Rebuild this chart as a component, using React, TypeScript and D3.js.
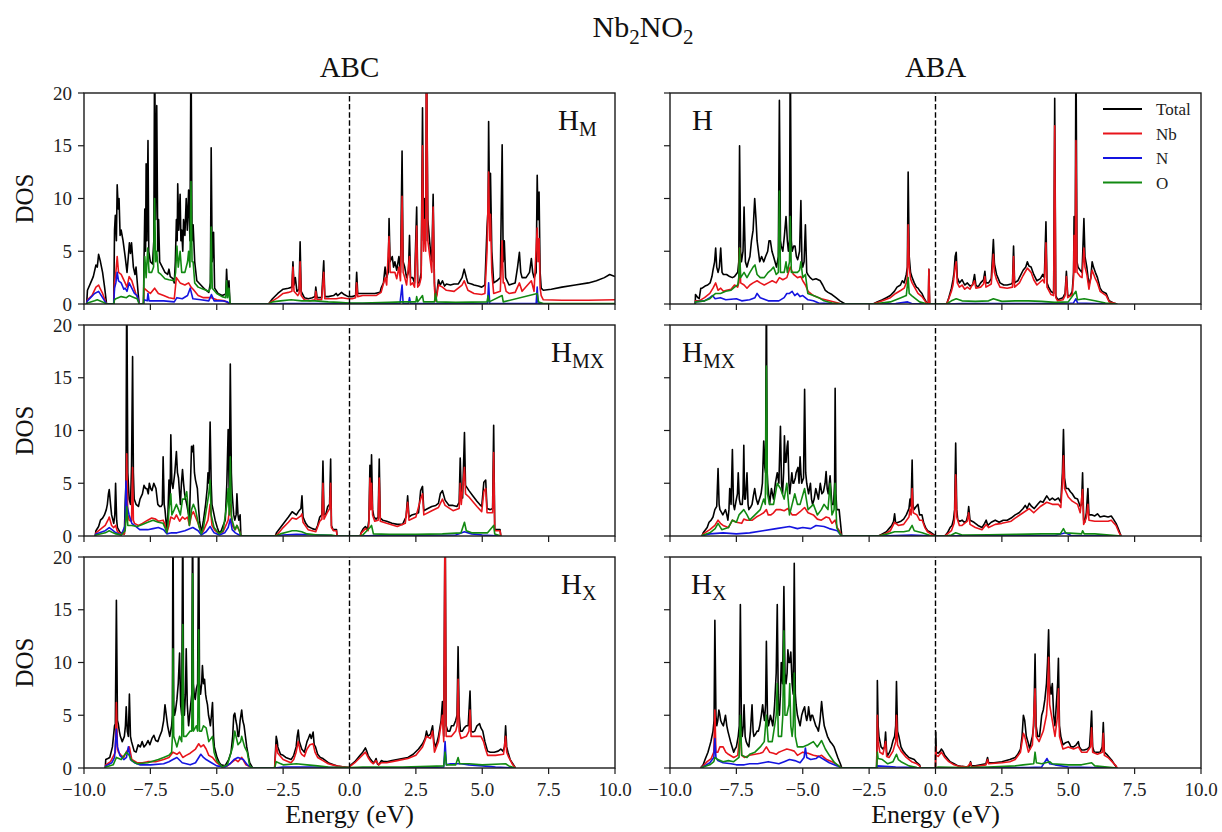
import React from "react";
import * as d3 from "d3";

type Pt = [number, number];

// ---------- axes, labels, legend ----------
const energyTicks = [-10, -7.5, -5, -2.5, 0, 2.5, 5, 7.5, 10];
const dosTicks = [0, 5, 10, 15, 20];
const stackings = ["ABC", "ABA"];
const seriesNames = ["Total", "Nb", "N", "O"];
const seriesColors = ["#000000", "#e8141b", "#1414e0", "#128a12"];

// ---------- ABC stacking, H_M site ----------
const abcHmTotal: Pt[] = [
  [-9.9, 0], [-9.87, 1.3], [-9.75, 2.0], [-9.65, 2.6], [-9.55, 3.7], [-9.5, 3.5], [-9.45, 4.7], [-9.38, 4.0], [-9.3, 3.0], [-9.22, 1.5], [-9.15, 0],
  [-8.88, 0], [-8.85, 7.0], [-8.82, 8.4], [-8.78, 6.0], [-8.75, 11.3], [-8.71, 9.0], [-8.68, 10.0], [-8.64, 6.5], [-8.6, 7.0], [-8.53, 6.0], [-8.45, 4.5], [-8.38, 3.0], [-8.33, 4.5], [-8.29, 5.8], [-8.25, 4.8], [-8.21, 5.8], [-8.14, 3.5], [-8.08, 2.8], [-8.04, 3.5], [-7.96, 1.0], [-7.92, 0],
  [-7.76, 0], [-7.74, 4.0], [-7.71, 9.0], [-7.68, 5.0], [-7.66, 13.3], [-7.63, 6.0], [-7.59, 15.5], [-7.56, 5.0], [-7.5, 4.0], [-7.42, 3.8], [-7.37, 6.0], [-7.34, 25], [-7.3, 8.0], [-7.26, 18.8], [-7.22, 5.0], [-7.19, 8.0], [-7.15, 4.0], [-7.05, 3.5], [-6.95, 3.0], [-6.85, 2.8], [-6.8, 3.3], [-6.75, 2.6], [-6.65, 2.4], [-6.6, 2.0],
  [-6.56, 4.0], [-6.52, 8.0], [-6.49, 6.0], [-6.47, 11.4], [-6.43, 7.0], [-6.38, 10.4], [-6.35, 6.0], [-6.32, 7.0], [-6.28, 5.0], [-6.25, 8.0], [-6.2, 6.5], [-6.15, 10.0], [-6.11, 7.0], [-6.06, 10.8], [-6.01, 6.0], [-5.97, 25], [-5.93, 6.0], [-5.89, 7.5], [-5.83, 4.0], [-5.75, 2.2], [-5.6, 1.8], [-5.45, 1.4], [-5.3, 1.1], [-5.24, 2.0], [-5.21, 14.8], [-5.17, 4.0], [-5.12, 6.8], [-5.08, 1.5], [-4.95, 1.0], [-4.8, 0.8], [-4.7, 0.9], [-4.66, 1.0], [-4.63, 3.3], [-4.59, 1.2], [-4.54, 2.2], [-4.5, 0],
  [-3.05, 0], [-2.9, 0.5], [-2.7, 1.0], [-2.5, 1.4], [-2.3, 1.5], [-2.17, 1.6], [-2.13, 4.0], [-2.09, 1.8], [-2.04, 2.5], [-1.98, 1.2], [-1.9, 1.4], [-1.86, 5.9], [-1.82, 1.2], [-1.7, 0.6], [-1.55, 0.5], [-1.4, 0.6], [-1.3, 0.7], [-1.27, 1.6], [-1.22, 0.6], [-1.05, 0.6], [-0.97, 4.1], [-0.93, 0.7], [-0.8, 0.7], [-0.6, 0.8], [-0.5, 1.0], [-0.45, 0.8], [-0.3, 1.1], [-0.2, 0.9], [-0.05, 0.7],
  [0.1, 0.7], [0.23, 0.8], [0.27, 3.0], [0.31, 1.0], [0.45, 1.0], [0.7, 1.0], [0.95, 1.0], [1.15, 1.1], [1.19, 1.5], [1.28, 2.0], [1.34, 3.5], [1.4, 2.5], [1.46, 3.0], [1.49, 8.1], [1.53, 4.0], [1.61, 4.5], [1.66, 3.5], [1.71, 4.0], [1.78, 3.2], [1.86, 4.5], [1.92, 3.0], [1.98, 14.5], [2.02, 4.0], [2.08, 3.5], [2.15, 2.5], [2.22, 3.0], [2.26, 6.5], [2.3, 2.5], [2.38, 2.5], [2.45, 2.0], [2.53, 9.2], [2.57, 2.0], [2.63, 2.0], [2.7, 3.0], [2.75, 18.6], [2.79, 6.0], [2.83, 10.0], [2.87, 6.0], [2.9, 25], [2.95, 8.0], [3.05, 5.0], [3.1, 4.0], [3.15, 10.4], [3.2, 2.0], [3.24, 0.5], [3.29, 1.0], [3.35, 2.3], [3.42, 1.8], [3.5, 2.2], [3.58, 1.7], [3.65, 1.9], [3.8, 1.8], [3.94, 1.9], [4.1, 1.9], [4.24, 2.5], [4.32, 3.3], [4.4, 2.5], [4.46, 2.0], [4.6, 1.9], [4.69, 1.8], [4.85, 1.7], [4.98, 1.6], [5.1, 1.8], [5.18, 7.3], [5.22, 9.0], [5.24, 17.3], [5.28, 8.0], [5.31, 12.4], [5.36, 5.0], [5.43, 2.0], [5.55, 2.2], [5.68, 2.5], [5.75, 15.1], [5.79, 4.0], [5.83, 6.0], [5.88, 2.5], [6.01, 1.8], [6.12, 1.9], [6.24, 2.0], [6.33, 3.5], [6.4, 4.9], [6.45, 3.0], [6.5, 2.5], [6.65, 2.5], [6.78, 3.0], [6.85, 4.3], [6.9, 3.0], [6.95, 2.5], [7.03, 3.0], [7.07, 12.2], [7.1, 8.0], [7.14, 10.6], [7.18, 3.0], [7.22, 1.5], [7.3, 1.3], [7.6, 1.4], [8.0, 1.6], [8.5, 1.8], [9.0, 2.0], [9.3, 2.2], [9.6, 2.5], [9.8, 2.8], [10.0, 2.6],
];
const abcHmNb: Pt[] = [
  [-9.9, 0], [-9.87, 0.4], [-9.7, 0.8], [-9.55, 1.6], [-9.45, 1.8], [-9.38, 1.4], [-9.3, 1.0], [-9.2, 0.3], [-9.15, 0],
  [-8.88, 0], [-8.85, 2.0], [-8.8, 3.0], [-8.75, 4.5], [-8.7, 3.0], [-8.6, 2.8], [-8.45, 2.0], [-8.38, 1.6], [-8.3, 2.6], [-8.2, 2.2], [-8.1, 1.4], [-8.05, 1.0], [-7.95, 0.4], [-7.92, 0],
  [-7.76, 0], [-7.74, 1.5], [-7.6, 1.2], [-7.5, 1.0], [-7.34, 1.5], [-7.2, 1.0], [-7.0, 0.8], [-6.8, 0.6], [-6.6, 0.5], [-6.52, 2.5], [-6.38, 2.0], [-6.2, 1.8], [-6.06, 2.0], [-5.97, 1.6], [-5.89, 1.4], [-5.7, 0.8], [-5.5, 0.6], [-5.2, 0.6], [-5.0, 0.4], [-4.7, 0.3], [-4.5, 0],
  [-3.05, 0], [-2.9, 0.3], [-2.7, 0.6], [-2.5, 1.0], [-2.3, 1.1], [-2.17, 1.2], [-2.13, 3.5], [-2.09, 1.2], [-1.95, 0.8], [-1.9, 1.0], [-1.86, 4.0], [-1.82, 0.8], [-1.7, 0.4], [-1.5, 0.3], [-1.3, 0.4], [-1.27, 1.2], [-1.22, 0.4], [-1.05, 0.4], [-0.97, 3.0], [-0.93, 0.5], [-0.7, 0.5], [-0.5, 0.5], [-0.3, 0.6], [-0.05, 0.5],
  [0.1, 0.5], [0.23, 0.6], [0.27, 2.0], [0.31, 0.7], [0.5, 0.8], [1.0, 0.8], [1.19, 1.1], [1.34, 2.5], [1.4, 1.8], [1.49, 6.4], [1.53, 3.0], [1.61, 3.0], [1.71, 3.0], [1.78, 2.4], [1.86, 3.5], [1.92, 2.2], [1.98, 10.2], [2.02, 3.0], [2.08, 2.5], [2.15, 1.8], [2.26, 4.5], [2.3, 1.8], [2.38, 2.0], [2.45, 1.6], [2.53, 7.4], [2.57, 1.6], [2.63, 1.8], [2.7, 2.5], [2.75, 15.0], [2.79, 5.0], [2.83, 8.0], [2.87, 5.0], [2.9, 25], [2.95, 6.0], [3.05, 4.0], [3.1, 3.0], [3.15, 9.2], [3.2, 1.5], [3.24, 0.3], [3.29, 0.8], [3.35, 1.8], [3.5, 1.6], [3.65, 1.3], [3.94, 1.2], [4.24, 1.8], [4.32, 2.2], [4.46, 1.3], [4.69, 1.0], [4.98, 0.9], [5.1, 1.0], [5.18, 5.0], [5.24, 12.5], [5.28, 6.0], [5.31, 8.5], [5.36, 3.0], [5.43, 1.0], [5.68, 1.2], [5.75, 6.0], [5.79, 2.0], [5.83, 2.0], [5.9, 1.2], [6.01, 1.0], [6.24, 1.1], [6.4, 2.0], [6.5, 1.2], [6.85, 2.2], [6.95, 1.2], [7.07, 7.2], [7.1, 4.0], [7.14, 6.2], [7.18, 1.5], [7.22, 0.8], [7.3, 0.4], [8.0, 0.35], [9.0, 0.35], [10.0, 0.4],
];
const abcHmN: Pt[] = [
  [-9.9, 0], [-9.87, 0.3], [-9.6, 1.0], [-9.45, 1.2], [-9.3, 0.6], [-9.2, 0.2], [-9.15, 0],
  [-8.88, 0], [-8.85, 1.5], [-8.8, 2.0], [-8.75, 3.0], [-8.7, 2.2], [-8.6, 2.0], [-8.5, 1.4], [-8.45, 1.5], [-8.38, 1.2], [-8.3, 2.0], [-8.2, 1.5], [-8.1, 1.0], [-8.0, 0.8], [-7.95, 0.3], [-7.92, 0],
  [-7.76, 0], [-7.74, 0.4], [-7.62, 0.3], [-7.59, 1.0], [-7.55, 0.3], [-7.3, 0.3], [-7.0, 0.3], [-6.6, 0.2], [-6.5, 0.6], [-6.3, 0.5], [-6.1, 0.8], [-6.0, 1.5], [-5.9, 0.5], [-5.6, 0.4], [-5.3, 0.3], [-5.2, 0.9], [-5.1, 0.3], [-4.8, 0.3], [-4.6, 0.2], [-4.5, 0],
  [-3.05, 0], [-2.5, 0.05], [-1.0, 0.05], [0, 0.05], [1.9, 0.05], [1.98, 1.8], [2.02, 0.05], [2.22, 0.05], [2.26, 0.6], [2.3, 0.05], [5.2, 0.05], [5.24, 2.0], [5.28, 0.05], [7.03, 0.05], [7.07, 1.6], [7.1, 0.05], [7.3, 0.02], [10, 0.02],
];
const abcHmO: Pt[] = [
  [-9.9, 0], [-9.87, 0.1], [-9.6, 0.3], [-9.5, 0.4], [-9.3, 0.2], [-9.15, 0],
  [-8.88, 0], [-8.85, 0.4], [-8.8, 0.5], [-8.6, 0.7], [-8.4, 0.6], [-8.3, 0.8], [-8.1, 0.6], [-8.0, 0.5], [-7.92, 0],
  [-7.76, 0], [-7.74, 3.0], [-7.71, 4.5], [-7.66, 2.5], [-7.6, 5.3], [-7.55, 3.0], [-7.45, 3.0], [-7.38, 3.5], [-7.34, 10.0], [-7.3, 4.0], [-7.26, 5.0], [-7.2, 3.0], [-7.1, 2.8], [-6.95, 2.4], [-6.8, 2.3], [-6.6, 2.2], [-6.55, 3.0], [-6.5, 5.5], [-6.45, 3.5], [-6.38, 5.0], [-6.32, 3.0], [-6.2, 3.0], [-6.1, 4.0], [-6.06, 5.0], [-6.01, 3.5], [-5.97, 11.6], [-5.93, 4.0], [-5.89, 4.0], [-5.83, 2.0], [-5.7, 1.6], [-5.5, 1.4], [-5.3, 1.2], [-5.24, 1.5], [-5.21, 7.3], [-5.17, 1.5], [-5.0, 1.0], [-4.8, 0.7], [-4.66, 0.6], [-4.63, 2.2], [-4.59, 0.6], [-4.54, 1.5], [-4.5, 0],
  [-3.05, 0], [-2.9, 0.2], [-2.6, 0.3], [-2.2, 0.4], [-1.8, 0.3], [-1.3, 0.3], [-0.8, 0.2], [-0.4, 0.15], [0, 0.1], [0.5, 0.1], [1.5, 0.15], [2.0, 0.2], [2.5, 0.2], [2.53, 0.7], [2.57, 0.2], [2.75, 0.8], [2.79, 0.2], [3.2, 0.2], [3.24, 1.0], [3.29, 0.2], [4.0, 0.15], [5.18, 0.2], [5.22, 0.8], [5.26, 0.2], [5.75, 0.8], [5.79, 0.2], [7.07, 1.0], [7.12, 0.2], [7.3, 0.05], [10, 0.05],
];

// ---------- ABA stacking, H site ----------
const abaHTotal: Pt[] = [
  [-9.05, 0], [-9.04, 0.9], [-8.95, 0.6], [-8.9, 0.5], [-8.84, 1.5], [-8.79, 1.5], [-8.68, 1.7], [-8.58, 1.8], [-8.49, 2.0], [-8.42, 2.6], [-8.38, 3.2], [-8.32, 4.0], [-8.28, 5.3], [-8.24, 3.5], [-8.19, 3.0], [-8.14, 3.5], [-8.09, 5.3], [-8.04, 3.0], [-7.99, 2.8], [-7.87, 2.8], [-7.75, 2.6], [-7.65, 2.5], [-7.57, 2.6], [-7.45, 3.0], [-7.41, 4.0], [-7.38, 15.0], [-7.34, 5.0], [-7.31, 4.0], [-7.25, 5.0], [-7.21, 9.2], [-7.16, 4.0], [-7.1, 3.5], [-7.05, 4.0], [-6.99, 4.5], [-6.93, 6.0], [-6.87, 7.0], [-6.81, 10.0], [-6.76, 8.0], [-6.72, 6.0], [-6.62, 4.0], [-6.55, 4.5], [-6.47, 4.0], [-6.4, 4.5], [-6.32, 5.0], [-6.27, 6.0], [-6.22, 6.0], [-6.16, 5.0], [-6.1, 4.5], [-5.99, 3.5], [-5.92, 4.5], [-5.88, 19.3], [-5.84, 6.0], [-5.81, 5.5], [-5.75, 5.0], [-5.69, 6.5], [-5.63, 8.3], [-5.58, 6.0], [-5.54, 5.0], [-5.5, 6.0], [-5.47, 25], [-5.43, 6.0], [-5.4, 5.0], [-5.34, 5.5], [-5.29, 5.5], [-5.24, 4.5], [-5.19, 4.2], [-5.12, 5.0], [-5.07, 9.8], [-5.03, 4.0], [-5.0, 3.5], [-4.95, 4.0], [-4.9, 7.5], [-4.85, 3.0], [-4.81, 2.8], [-4.72, 2.5], [-4.63, 2.3], [-4.5, 2.4], [-4.34, 2.2], [-4.25, 1.8], [-4.15, 1.3], [-4.05, 1.1], [-3.9, 0.9], [-3.75, 0.6], [-3.6, 0.3], [-3.4, 0],
  [-2.35, 0], [-2.2, 0.2], [-2.0, 0.4], [-1.85, 0.6], [-1.7, 0.8], [-1.55, 1.2], [-1.45, 1.6], [-1.32, 1.8], [-1.25, 2.2], [-1.18, 2.0], [-1.1, 2.8], [-1.06, 3.5], [-1.03, 12.5], [-0.99, 4.5], [-0.94, 3.0], [-0.88, 2.5], [-0.8, 2.0], [-0.72, 1.6], [-0.66, 1.5], [-0.58, 1.2], [-0.51, 1.0], [-0.44, 0.6], [-0.37, 0.3], [-0.3, 0], [-0.27, 0], [-0.25, 3.3], [-0.22, 0],
  [0.42, 0], [0.5, 0.6], [0.6, 1.5], [0.66, 2.3], [0.7, 3.0], [0.74, 4.5], [0.78, 4.9], [0.82, 2.5], [0.9, 2.0], [1.0, 2.3], [1.1, 1.8], [1.2, 2.0], [1.3, 1.7], [1.4, 1.8], [1.47, 2.8], [1.52, 1.8], [1.6, 1.6], [1.7, 2.0], [1.81, 2.3], [1.86, 3.1], [1.9, 2.0], [2.0, 2.0], [2.1, 2.4], [2.18, 6.1], [2.22, 3.8], [2.3, 2.8], [2.43, 2.0], [2.57, 1.8], [2.7, 1.8], [2.85, 1.9], [2.9, 2.0], [2.94, 5.5], [2.98, 2.0], [3.1, 2.2], [3.16, 2.5], [3.3, 3.2], [3.4, 3.5], [3.46, 4.0], [3.52, 3.6], [3.6, 3.5], [3.7, 2.8], [3.82, 2.2], [3.95, 2.4], [4.04, 2.8], [4.1, 2.5], [4.16, 7.8], [4.2, 2.0], [4.26, 1.6], [4.35, 1.2], [4.45, 1.0], [4.49, 19.5], [4.53, 0.8], [4.6, 0.4], [4.7, 0.5], [4.8, 0.6], [4.88, 1.0], [4.93, 3.1], [4.98, 0.8], [5.07, 0.8], [5.15, 1.2], [5.2, 3.0], [5.22, 8.3], [5.26, 4.0], [5.29, 25], [5.33, 4.0], [5.37, 3.5], [5.45, 3.2], [5.52, 3.0], [5.59, 8.1], [5.63, 4.5], [5.7, 3.5], [5.78, 1.8], [5.85, 2.5], [5.9, 4.0], [5.95, 3.5], [6.02, 3.0], [6.1, 2.5], [6.2, 1.5], [6.28, 1.2], [6.43, 1.0], [6.54, 0.3], [6.7, 0.1], [6.84, 0],
];
const abaHNb: Pt[] = [
  [-9.05, 0], [-9.04, 0.3], [-8.9, 0.3], [-8.7, 0.6], [-8.5, 1.0], [-8.38, 1.5], [-8.28, 2.0], [-8.19, 1.3], [-8.09, 1.5], [-7.99, 1.2], [-7.87, 1.3], [-7.7, 1.4], [-7.57, 1.8], [-7.45, 1.6], [-7.41, 2.0], [-7.38, 5.3], [-7.34, 2.0], [-7.21, 1.8], [-7.1, 1.5], [-6.99, 1.8], [-6.87, 2.0], [-6.72, 2.2], [-6.6, 2.0], [-6.45, 1.8], [-6.3, 2.0], [-6.15, 2.2], [-6.0, 2.0], [-5.88, 2.5], [-5.75, 2.3], [-5.6, 2.5], [-5.47, 3.5], [-5.35, 2.8], [-5.2, 2.5], [-5.07, 2.6], [-5.0, 2.2], [-4.9, 1.8], [-4.8, 1.2], [-4.6, 0.8], [-4.3, 0.5], [-4.0, 0.3], [-3.6, 0.05], [-3.4, 0],
  [-2.35, 0], [-2.0, 0.3], [-1.7, 0.6], [-1.5, 1.0], [-1.3, 1.3], [-1.18, 1.5], [-1.1, 2.0], [-1.06, 2.6], [-1.03, 7.5], [-0.99, 3.5], [-0.94, 2.4], [-0.88, 2.0], [-0.75, 1.4], [-0.66, 1.0], [-0.51, 0.7], [-0.37, 0.2], [-0.3, 0], [-0.27, 0], [-0.25, 3.3], [-0.22, 0],
  [0.42, 0], [0.5, 0.5], [0.6, 1.2], [0.66, 1.8], [0.74, 3.5], [0.78, 4.0], [0.82, 2.0], [0.9, 1.6], [1.0, 1.8], [1.1, 1.4], [1.2, 1.6], [1.3, 1.4], [1.47, 2.2], [1.52, 1.5], [1.7, 1.6], [1.81, 1.9], [1.86, 2.6], [1.9, 1.6], [2.1, 1.9], [2.18, 4.7], [2.22, 3.0], [2.3, 2.3], [2.43, 1.6], [2.7, 1.5], [2.9, 1.6], [2.94, 4.5], [2.98, 1.6], [3.16, 2.0], [3.3, 2.7], [3.46, 3.4], [3.6, 3.0], [3.7, 2.3], [3.82, 1.8], [4.04, 2.3], [4.1, 2.0], [4.16, 5.8], [4.2, 1.6], [4.35, 0.9], [4.45, 0.8], [4.49, 16.9], [4.53, 0.6], [4.6, 0.3], [4.8, 0.4], [4.88, 0.8], [4.93, 2.6], [4.98, 0.6], [5.15, 0.9], [5.2, 2.5], [5.22, 6.5], [5.26, 3.0], [5.29, 15.5], [5.33, 3.0], [5.45, 2.6], [5.52, 2.5], [5.59, 5.3], [5.63, 3.5], [5.7, 2.8], [5.78, 1.4], [5.9, 3.2], [6.02, 2.4], [6.1, 2.0], [6.2, 1.2], [6.43, 0.8], [6.54, 0.2], [6.84, 0],
];
const abaHN: Pt[] = [
  [-9.05, 0], [-9.04, 0.2], [-8.7, 0.3], [-8.5, 0.6], [-8.4, 0.8], [-8.3, 0.5], [-8.1, 0.6], [-7.9, 0.4], [-7.5, 0.5], [-7.3, 0.3], [-7.0, 0.4], [-6.8, 0.6], [-6.72, 1.0], [-6.6, 0.6], [-6.5, 0.5], [-6.3, 0.3], [-6.1, 0.3], [-5.9, 0.3], [-5.7, 0.6], [-5.6, 1.0], [-5.5, 1.0], [-5.4, 1.2], [-5.3, 0.8], [-5.2, 1.0], [-5.1, 0.7], [-5.0, 0.8], [-4.8, 0.4], [-4.6, 0.3], [-4.4, 0.1], [-4.0, 0.05], [-3.4, 0],
  [-2.35, 0], [-1.5, 0.05], [-1.05, 0.2], [-0.9, 0.05], [-0.3, 0],
  [0.42, 0], [1.0, 0.05], [4.0, 0.05], [5.2, 0.1], [5.29, 0.5], [5.35, 0.1], [6.0, 0.05], [6.84, 0],
];
const abaHO: Pt[] = [
  [-9.05, 0], [-9.04, 0.2], [-8.7, 0.3], [-8.5, 0.5], [-8.38, 0.8], [-8.28, 1.0], [-8.1, 1.0], [-7.9, 1.2], [-7.7, 1.3], [-7.57, 1.6], [-7.45, 1.8], [-7.41, 2.5], [-7.38, 5.3], [-7.34, 2.5], [-7.21, 3.0], [-7.1, 2.5], [-6.99, 3.0], [-6.87, 3.5], [-6.8, 3.7], [-6.72, 2.8], [-6.6, 2.5], [-6.45, 2.5], [-6.3, 3.0], [-6.2, 3.2], [-6.1, 3.5], [-6.0, 2.8], [-5.92, 3.0], [-5.88, 10.7], [-5.84, 3.0], [-5.7, 3.0], [-5.63, 4.0], [-5.58, 3.0], [-5.5, 4.0], [-5.47, 8.3], [-5.43, 3.0], [-5.3, 3.0], [-5.2, 3.0], [-5.12, 3.2], [-5.07, 4.0], [-5.0, 2.5], [-4.9, 2.8], [-4.81, 1.0], [-4.6, 0.8], [-4.4, 0.6], [-4.2, 0.3], [-3.9, 0.1], [-3.6, 0.02], [-3.4, 0],
  [-2.35, 0], [-1.7, 0.2], [-1.3, 0.6], [-1.1, 0.8], [-1.03, 2.5], [-0.99, 1.0], [-0.9, 0.8], [-0.6, 0.2], [-0.37, 0.05], [-0.3, 0],
  [0.42, 0], [0.6, 0.3], [0.78, 0.5], [1.0, 0.3], [1.5, 0.25], [2.0, 0.3], [2.18, 0.5], [2.5, 0.25], [3.0, 0.3], [3.5, 0.3], [4.0, 0.25], [4.5, 0.15], [5.0, 0.2], [5.29, 1.2], [5.35, 0.4], [5.6, 0.5], [6.0, 0.3], [6.4, 0.1], [6.84, 0],
];

// ---------- ABC stacking, H_MX site ----------
const abcHmxTotal: Pt[] = [
  [-9.58, 0], [-9.55, 0.5], [-9.45, 0.9], [-9.38, 1.5], [-9.3, 1.7], [-9.23, 2.0], [-9.16, 2.5], [-9.12, 3.0], [-9.08, 4.0], [-9.05, 4.4], [-9.0, 3.0], [-8.96, 2.0], [-8.88, 1.2], [-8.84, 2.0], [-8.81, 5.0], [-8.77, 1.5], [-8.74, 0.8], [-8.63, 0.3], [-8.48, 0.2], [-8.45, 3.0], [-8.42, 5.0], [-8.39, 25], [-8.35, 6.0], [-8.3, 3.5], [-8.25, 3.0], [-8.21, 6.5], [-8.17, 17.0], [-8.14, 6.0], [-8.11, 3.5], [-8.04, 3.0], [-7.95, 2.8], [-7.89, 3.5], [-7.8, 4.0], [-7.74, 4.8], [-7.68, 4.5], [-7.63, 4.5], [-7.58, 4.0], [-7.54, 5.0], [-7.49, 4.5], [-7.44, 4.3], [-7.37, 5.0], [-7.29, 4.5], [-7.22, 3.0], [-7.15, 2.8], [-7.1, 2.8], [-7.05, 3.0], [-7.02, 7.5], [-6.98, 3.0], [-6.95, 2.5], [-6.88, 0.5], [-6.84, 2.0], [-6.8, 5.3], [-6.76, 3.0], [-6.73, 9.6], [-6.69, 5.0], [-6.65, 4.5], [-6.58, 6.0], [-6.55, 7.0], [-6.52, 8.0], [-6.48, 6.0], [-6.44, 5.5], [-6.4, 4.0], [-6.37, 3.0], [-6.33, 5.0], [-6.29, 6.3], [-6.25, 5.0], [-6.21, 4.0], [-6.13, 3.0], [-6.06, 2.0], [-6.03, 1.5], [-5.99, 5.0], [-5.95, 8.5], [-5.92, 8.0], [-5.88, 8.6], [-5.84, 6.0], [-5.8, 5.3], [-5.73, 4.5], [-5.68, 2.5], [-5.65, 1.5], [-5.58, 0.3], [-5.5, 1.5], [-5.42, 3.0], [-5.36, 4.5], [-5.33, 6.0], [-5.29, 5.0], [-5.25, 10.8], [-5.21, 5.0], [-5.18, 3.0], [-5.1, 2.0], [-5.06, 1.5], [-4.98, 0.8], [-4.91, 0.3], [-4.83, 0.5], [-4.76, 1.0], [-4.68, 1.5], [-4.62, 5.0], [-4.57, 10.1], [-4.53, 4.0], [-4.49, 16.3], [-4.45, 6.0], [-4.42, 4.0], [-4.36, 2.0], [-4.32, 1.5], [-4.27, 2.0], [-4.24, 4.0], [-4.2, 2.0], [-4.17, 1.5], [-4.12, 2.0], [-4.09, 0],
  [-2.8, 0], [-2.75, 0.3], [-2.6, 0.8], [-2.45, 1.3], [-2.3, 1.8], [-2.16, 2.3], [-2.0, 2.0], [-1.9, 2.4], [-1.83, 2.6], [-1.79, 3.8], [-1.75, 1.8], [-1.65, 1.2], [-1.56, 0.9], [-1.4, 0.7], [-1.27, 0.6], [-1.2, 1.0], [-1.12, 1.8], [-1.04, 2.0], [-1.0, 7.1], [-0.96, 2.0], [-0.89, 2.1], [-0.82, 2.8], [-0.75, 3.0], [-0.71, 7.3], [-0.68, 1.0], [-0.62, 0.6], [-0.52, 0.6], [-0.49, 0.6], [-0.47, 0],
  [0.4, 0], [0.45, 0.4], [0.52, 0.7], [0.6, 0.9], [0.68, 0.6], [0.73, 1.5], [0.77, 6.7], [0.8, 3.0], [0.83, 7.7], [0.87, 2.5], [0.92, 1.8], [1.0, 1.6], [1.08, 1.8], [1.12, 7.3], [1.16, 1.7], [1.25, 1.5], [1.4, 1.4], [1.6, 1.2], [1.8, 1.1], [2.0, 1.1], [2.09, 1.6], [2.13, 1.8], [2.19, 3.8], [2.24, 1.8], [2.35, 2.0], [2.5, 2.1], [2.6, 2.2], [2.68, 4.3], [2.75, 4.7], [2.8, 2.4], [2.95, 2.6], [3.1, 2.8], [3.25, 2.9], [3.35, 3.1], [3.42, 4.0], [3.5, 4.3], [3.6, 3.4], [3.75, 2.9], [3.9, 2.9], [4.05, 2.8], [4.13, 3.2], [4.17, 7.4], [4.21, 4.0], [4.26, 3.6], [4.33, 9.8], [4.37, 4.8], [4.5, 4.3], [4.65, 3.8], [4.8, 3.3], [4.9, 3.0], [4.98, 2.8], [5.06, 5.1], [5.13, 5.3], [5.18, 2.6], [5.3, 2.5], [5.39, 2.6], [5.43, 10.5], [5.47, 0.6], [5.6, 0.6], [5.67, 0.6], [5.7, 0],
];
const abcHmxNb: Pt[] = [
  [-9.58, 0], [-9.55, 0.3], [-9.4, 0.6], [-9.2, 1.0], [-9.08, 1.6], [-9.05, 1.8], [-8.96, 1.0], [-8.88, 0.8], [-8.81, 1.0], [-8.74, 0.4], [-8.6, 0.2], [-8.48, 0.2], [-8.42, 2.0], [-8.39, 7.8], [-8.35, 2.0], [-8.3, 1.5], [-8.21, 1.4], [-8.17, 6.5], [-8.14, 1.5], [-8.1, 1.2], [-7.95, 1.0], [-7.8, 1.2], [-7.6, 1.5], [-7.45, 1.7], [-7.3, 1.6], [-7.2, 1.4], [-7.02, 1.5], [-6.95, 1.1], [-6.88, 0.3], [-6.8, 1.0], [-6.73, 1.8], [-6.6, 1.6], [-6.52, 2.0], [-6.4, 1.4], [-6.29, 1.8], [-6.2, 1.6], [-6.1, 1.8], [-6.03, 1.0], [-5.95, 2.0], [-5.88, 2.3], [-5.8, 1.8], [-5.7, 1.2], [-5.58, 0.2], [-5.5, 0.5], [-5.33, 1.5], [-5.25, 3.0], [-5.18, 1.0], [-5.06, 0.5], [-4.91, 0.2], [-4.76, 0.4], [-4.57, 1.5], [-4.49, 3.0], [-4.42, 1.0], [-4.3, 0.6], [-4.24, 1.0], [-4.15, 0.5], [-4.09, 0],
  [-2.8, 0], [-2.7, 0.2], [-2.5, 0.8], [-2.3, 1.3], [-2.16, 1.7], [-2.0, 1.6], [-1.83, 1.9], [-1.79, 2.1], [-1.75, 1.3], [-1.56, 0.6], [-1.27, 0.4], [-1.12, 1.4], [-1.04, 1.6], [-1.0, 5.0], [-0.96, 1.6], [-0.82, 2.3], [-0.75, 2.6], [-0.71, 5.0], [-0.68, 0.8], [-0.6, 0.5], [-0.49, 0.5], [-0.47, 0],
  [0.4, 0], [0.45, 0.3], [0.6, 0.7], [0.7, 0.5], [0.73, 1.2], [0.77, 5.5], [0.8, 2.5], [0.83, 5.0], [0.87, 2.0], [0.95, 1.4], [1.08, 1.5], [1.12, 5.5], [1.16, 1.4], [1.4, 1.2], [1.8, 0.9], [2.1, 1.2], [2.19, 3.2], [2.24, 1.5], [2.5, 1.8], [2.68, 3.5], [2.75, 4.0], [2.8, 2.0], [3.1, 2.4], [3.35, 2.7], [3.5, 3.5], [3.6, 2.9], [3.9, 2.4], [4.13, 2.6], [4.17, 5.0], [4.21, 3.0], [4.33, 6.5], [4.37, 4.0], [4.5, 3.7], [4.8, 2.8], [4.98, 2.3], [5.06, 4.2], [5.13, 4.5], [5.18, 2.2], [5.39, 2.2], [5.43, 7.9], [5.47, 0.5], [5.67, 0.5], [5.7, 0],
];
const abcHmxN: Pt[] = [
  [-9.58, 0], [-9.55, 0.2], [-9.2, 0.5], [-9.05, 0.8], [-8.9, 0.5], [-8.8, 0.3], [-8.6, 0.1], [-8.45, 1.0], [-8.42, 5.2], [-8.39, 3.0], [-8.3, 2.0], [-8.2, 1.2], [-8.1, 1.0], [-7.9, 0.6], [-7.6, 0.6], [-7.4, 0.7], [-7.2, 0.8], [-7.0, 0.6], [-6.88, 0.2], [-6.7, 0.3], [-6.5, 0.3], [-6.2, 0.5], [-6.0, 0.7], [-5.9, 0.8], [-5.7, 0.5], [-5.58, 0.1], [-5.4, 0.4], [-5.25, 0.9], [-5.1, 0.3], [-4.9, 0.1], [-4.7, 0.3], [-4.57, 0.8], [-4.49, 1.6], [-4.42, 0.6], [-4.3, 0.3], [-4.09, 0],
  [-2.8, 0], [-2.5, 0.1], [-2.0, 0.15], [-1.0, 0.1], [-0.47, 0],
  [0.4, 0], [1.0, 0.05], [4.0, 0.1], [4.33, 0.4], [4.6, 0.2], [5.0, 0.1], [5.7, 0],
];
const abcHmxO: Pt[] = [
  [-9.58, 0], [-9.55, 0.1], [-9.2, 0.3], [-9.05, 0.5], [-8.9, 0.3], [-8.8, 0.2], [-8.6, 0.1], [-8.45, 0.5], [-8.39, 2.8], [-8.35, 1.0], [-8.2, 1.0], [-8.0, 0.9], [-7.8, 1.1], [-7.6, 1.3], [-7.4, 1.5], [-7.2, 1.3], [-7.02, 1.2], [-6.95, 0.8], [-6.88, 0.3], [-6.84, 1.0], [-6.8, 2.5], [-6.73, 4.0], [-6.69, 2.0], [-6.6, 2.5], [-6.52, 3.0], [-6.44, 2.5], [-6.37, 2.0], [-6.29, 3.5], [-6.21, 3.5], [-6.13, 4.2], [-6.06, 2.0], [-6.03, 1.0], [-5.95, 2.5], [-5.88, 3.0], [-5.8, 2.5], [-5.68, 1.0], [-5.58, 0.2], [-5.5, 0.8], [-5.36, 3.0], [-5.3, 4.0], [-5.25, 5.3], [-5.21, 2.0], [-5.1, 0.8], [-4.91, 0.2], [-4.76, 0.5], [-4.62, 3.0], [-4.57, 4.5], [-4.53, 2.0], [-4.49, 7.5], [-4.45, 2.0], [-4.42, 1.5], [-4.32, 0.6], [-4.24, 1.0], [-4.15, 0.5], [-4.09, 0],
  [-2.8, 0], [-2.6, 0.2], [-2.3, 0.4], [-2.16, 0.5], [-2.0, 0.5], [-1.8, 0.4], [-1.6, 0.2], [-1.2, 0.1], [-0.7, 0.1], [-0.47, 0],
  [0.4, 0], [0.5, 0.1], [0.77, 0.8], [0.83, 1.0], [0.9, 0.2], [1.5, 0.15], [2.5, 0.15], [3.5, 0.2], [4.2, 0.3], [4.33, 1.3], [4.4, 0.5], [4.6, 0.3], [5.2, 0.3], [5.43, 1.0], [5.47, 0.2], [5.7, 0],
];

// ---------- ABA stacking, H_MX site ----------
const abaHmxTotal: Pt[] = [
  [-8.8, 0], [-8.75, 0.3], [-8.6, 0.8], [-8.53, 1.3], [-8.45, 1.5], [-8.38, 1.8], [-8.31, 2.5], [-8.24, 2.8], [-8.19, 6.4], [-8.15, 3.0], [-8.12, 2.5], [-8.05, 2.2], [-8.01, 2.0], [-7.95, 2.3], [-7.91, 2.5], [-7.86, 2.0], [-7.82, 1.5], [-7.78, 2.5], [-7.75, 4.5], [-7.7, 3.0], [-7.65, 8.2], [-7.61, 3.0], [-7.57, 2.5], [-7.5, 3.5], [-7.46, 4.0], [-7.43, 6.0], [-7.39, 3.5], [-7.35, 3.0], [-7.28, 3.0], [-7.25, 4.0], [-7.22, 8.6], [-7.19, 3.5], [-7.16, 3.5], [-7.1, 6.0], [-7.06, 3.0], [-7.03, 2.5], [-6.95, 2.8], [-6.91, 3.0], [-6.86, 3.8], [-6.81, 4.5], [-6.75, 3.5], [-6.69, 3.0], [-6.63, 3.5], [-6.57, 4.0], [-6.52, 5.0], [-6.47, 9.0], [-6.43, 6.5], [-6.4, 6.0], [-6.37, 25], [-6.34, 6.0], [-6.32, 5.0], [-6.25, 3.0], [-6.18, 4.5], [-6.14, 4.0], [-6.1, 3.5], [-6.03, 5.0], [-5.96, 6.0], [-5.9, 5.0], [-5.84, 10.4], [-5.8, 5.0], [-5.76, 4.0], [-5.72, 6.0], [-5.69, 9.5], [-5.66, 7.0], [-5.63, 7.0], [-5.59, 8.5], [-5.56, 9.0], [-5.52, 5.0], [-5.49, 4.0], [-5.45, 5.0], [-5.41, 6.0], [-5.37, 5.0], [-5.34, 5.0], [-5.28, 5.5], [-5.25, 6.0], [-5.18, 6.5], [-5.14, 5.0], [-5.1, 7.5], [-5.07, 6.0], [-5.04, 5.0], [-4.97, 5.5], [-4.93, 13.9], [-4.89, 6.0], [-4.85, 5.0], [-4.78, 4.0], [-4.71, 5.0], [-4.67, 3.5], [-4.63, 3.0], [-4.57, 3.5], [-4.51, 4.5], [-4.46, 4.0], [-4.41, 3.5], [-4.34, 5.0], [-4.28, 4.0], [-4.22, 4.2], [-4.16, 5.0], [-4.12, 6.1], [-4.08, 4.5], [-4.04, 4.0], [-3.97, 5.7], [-3.93, 4.0], [-3.9, 3.0], [-3.84, 3.0], [-3.8, 5.0], [-3.78, 14.0], [-3.75, 4.0], [-3.72, 2.5], [-3.63, 2.5], [-3.57, 1.0], [-3.53, 0],
  [-2.15, 0], [-2.0, 0.2], [-1.85, 0.4], [-1.75, 0.7], [-1.65, 1.0], [-1.58, 1.4], [-1.54, 2.1], [-1.5, 1.2], [-1.4, 1.3], [-1.3, 1.4], [-1.2, 1.6], [-1.1, 2.0], [-1.0, 2.6], [-0.96, 3.5], [-0.92, 2.8], [-0.88, 7.2], [-0.85, 3.0], [-0.81, 2.5], [-0.73, 2.8], [-0.66, 3.0], [-0.6, 2.0], [-0.51, 2.0], [-0.44, 1.2], [-0.37, 0.8], [-0.3, 0.5], [-0.22, 0.4], [-0.1, 0.2], [0, 0],
  [0.35, 0], [0.45, 0.3], [0.55, 0.8], [0.62, 1.0], [0.68, 1.6], [0.72, 2.5], [0.76, 8.8], [0.8, 2.5], [0.84, 1.5], [0.92, 1.4], [1.0, 1.5], [1.08, 1.3], [1.16, 1.4], [1.22, 2.0], [1.25, 2.8], [1.3, 1.5], [1.45, 1.3], [1.6, 1.0], [1.75, 0.8], [1.85, 1.2], [1.91, 1.5], [1.97, 1.0], [2.1, 1.3], [2.25, 1.5], [2.4, 1.3], [2.55, 1.5], [2.7, 1.5], [2.85, 1.7], [3.0, 2.0], [3.15, 2.2], [3.3, 2.6], [3.38, 2.9], [3.45, 2.6], [3.53, 3.1], [3.62, 2.8], [3.72, 2.6], [3.85, 3.0], [3.95, 3.3], [4.05, 3.2], [4.19, 3.8], [4.3, 3.4], [4.4, 3.6], [4.5, 3.4], [4.63, 3.6], [4.72, 3.2], [4.78, 6.0], [4.82, 10.1], [4.86, 5.5], [4.92, 4.5], [5.0, 4.5], [5.08, 4.2], [5.15, 4.0], [5.25, 3.6], [5.35, 3.5], [5.45, 2.8], [5.5, 3.0], [5.54, 6.0], [5.58, 1.5], [5.62, 1.3], [5.68, 2.2], [5.74, 4.5], [5.78, 2.0], [5.9, 2.0], [6.0, 1.9], [6.1, 2.1], [6.2, 1.8], [6.35, 1.9], [6.5, 1.8], [6.62, 1.9], [6.7, 1.6], [6.8, 1.2], [6.9, 0.6], [6.99, 0],
];
const abaHmxNb: Pt[] = [
  [-8.8, 0], [-8.75, 0.2], [-8.5, 0.6], [-8.31, 1.0], [-8.19, 1.5], [-8.1, 1.2], [-8.0, 1.0], [-7.8, 0.8], [-7.65, 1.5], [-7.5, 1.3], [-7.3, 1.2], [-7.22, 1.6], [-7.1, 1.5], [-6.9, 1.5], [-6.75, 1.8], [-6.6, 2.0], [-6.47, 2.2], [-6.37, 2.5], [-6.3, 2.0], [-6.2, 2.0], [-6.1, 2.2], [-6.0, 2.5], [-5.84, 2.5], [-5.7, 2.4], [-5.56, 2.6], [-5.4, 2.0], [-5.25, 2.0], [-5.1, 2.3], [-4.93, 2.7], [-4.8, 2.2], [-4.6, 2.0], [-4.45, 1.6], [-4.3, 1.5], [-4.12, 1.8], [-4.0, 1.7], [-3.9, 1.2], [-3.78, 1.5], [-3.7, 0.8], [-3.6, 0.4], [-3.53, 0],
  [-2.15, 0], [-1.9, 0.2], [-1.7, 0.5], [-1.54, 1.3], [-1.4, 1.0], [-1.2, 1.1], [-1.0, 1.8], [-0.96, 2.5], [-0.92, 2.0], [-0.88, 4.5], [-0.84, 2.2], [-0.7, 2.0], [-0.6, 1.5], [-0.5, 1.5], [-0.4, 0.8], [-0.3, 0.4], [-0.1, 0.1], [0, 0],
  [0.35, 0], [0.45, 0.2], [0.6, 0.5], [0.7, 1.2], [0.72, 1.8], [0.76, 5.8], [0.8, 1.8], [0.9, 1.0], [1.0, 1.0], [1.2, 1.4], [1.25, 2.2], [1.3, 1.1], [1.5, 0.8], [1.75, 0.6], [1.91, 1.1], [2.0, 0.8], [2.25, 1.1], [2.5, 1.2], [2.85, 1.4], [3.0, 1.7], [3.3, 2.2], [3.53, 2.6], [3.7, 2.2], [3.95, 2.8], [4.19, 3.2], [4.4, 3.0], [4.63, 3.0], [4.72, 2.7], [4.78, 5.0], [4.82, 7.6], [4.86, 4.5], [5.0, 3.7], [5.15, 3.3], [5.35, 3.0], [5.45, 2.2], [5.54, 4.4], [5.58, 1.1], [5.68, 1.7], [5.74, 3.0], [5.78, 1.5], [6.0, 1.4], [6.2, 1.4], [6.5, 1.4], [6.62, 1.5], [6.8, 1.0], [6.9, 0.4], [6.99, 0],
];
const abaHmxN: Pt[] = [
  [-8.8, 0], [-8.75, 0.05], [-8.5, 0.2], [-8.0, 0.3], [-7.5, 0.2], [-7.0, 0.3], [-6.5, 0.5], [-6.0, 0.7], [-5.5, 0.9], [-5.2, 0.7], [-5.0, 0.8], [-4.7, 0.7], [-4.5, 1.0], [-4.2, 0.9], [-4.0, 0.7], [-3.7, 0.5], [-3.6, 0.2], [-3.53, 0],
  [-2.15, 0], [-1.5, 0.05], [-0.9, 0.1], [0, 0],
  [0.35, 0], [1.0, 0.02], [4.5, 0.05], [4.9, 0.3], [5.1, 0.05], [6.99, 0],
];
const abaHmxO: Pt[] = [
  [-8.8, 0], [-8.75, 0.1], [-8.5, 0.3], [-8.3, 0.7], [-8.19, 1.2], [-8.05, 0.6], [-7.8, 0.8], [-7.65, 1.5], [-7.5, 1.3], [-7.4, 2.0], [-7.22, 2.5], [-7.1, 2.0], [-7.0, 1.5], [-6.8, 2.0], [-6.6, 2.5], [-6.47, 3.5], [-6.41, 3.0], [-6.37, 16.1], [-6.33, 4.0], [-6.25, 3.0], [-6.1, 3.0], [-5.96, 5.0], [-5.84, 4.5], [-5.7, 3.5], [-5.6, 5.0], [-5.5, 2.0], [-5.4, 3.0], [-5.3, 4.0], [-5.2, 3.0], [-5.1, 3.0], [-4.93, 4.5], [-4.8, 2.5], [-4.6, 3.0], [-4.45, 2.0], [-4.3, 2.5], [-4.2, 3.0], [-4.05, 2.5], [-3.97, 5.0], [-3.9, 2.0], [-3.82, 2.5], [-3.78, 5.0], [-3.72, 0.8], [-3.6, 0.2], [-3.53, 0],
  [-2.15, 0], [-1.8, 0.2], [-1.54, 0.4], [-1.2, 0.4], [-1.0, 0.5], [-0.88, 1.0], [-0.8, 0.5], [-0.5, 0.3], [-0.2, 0.05], [0, 0],
  [0.35, 0], [0.6, 0.1], [0.76, 0.3], [1.0, 0.1], [2.0, 0.12], [3.0, 0.15], [4.0, 0.2], [4.7, 0.2], [4.82, 0.7], [4.9, 0.3], [5.5, 0.2], [5.54, 0.5], [5.6, 0.2], [6.0, 0.2], [6.99, 0],
];

// ---------- ABC stacking, H_X site ----------
const abcHxTotal: Pt[] = [
  [-9.2, 0], [-9.18, 0.8], [-9.1, 0.9], [-9.03, 1.0], [-8.93, 2.0], [-8.85, 4.0], [-8.82, 4.2], [-8.78, 15.9], [-8.74, 4.5], [-8.71, 4.2], [-8.67, 3.5], [-8.63, 3.0], [-8.56, 2.5], [-8.48, 3.0], [-8.44, 4.0], [-8.41, 5.8], [-8.37, 3.5], [-8.33, 3.0], [-8.29, 7.0], [-8.25, 3.0], [-8.21, 2.5], [-8.11, 1.6], [-8.04, 1.5], [-7.96, 2.2], [-7.88, 2.0], [-7.81, 2.5], [-7.74, 2.0], [-7.67, 2.2], [-7.59, 2.6], [-7.52, 2.2], [-7.44, 2.8], [-7.37, 3.1], [-7.3, 2.6], [-7.22, 2.5], [-7.15, 3.0], [-7.07, 3.5], [-7.0, 4.5], [-6.95, 6.0], [-6.9, 5.0], [-6.85, 4.0], [-6.77, 3.0], [-6.7, 4.0], [-6.67, 5.0], [-6.65, 25], [-6.62, 6.0], [-6.59, 5.0], [-6.55, 5.5], [-6.5, 6.5], [-6.45, 8.0], [-6.4, 10.9], [-6.36, 6.0], [-6.32, 5.0], [-6.28, 25], [-6.25, 6.0], [-6.22, 5.0], [-6.18, 7.0], [-6.15, 11.3], [-6.11, 6.0], [-6.06, 4.0], [-6.02, 5.0], [-5.98, 6.0], [-5.94, 7.0], [-5.91, 25], [-5.88, 8.0], [-5.85, 7.0], [-5.81, 6.5], [-5.77, 7.5], [-5.72, 8.0], [-5.68, 25], [-5.65, 8.0], [-5.61, 7.0], [-5.57, 8.0], [-5.54, 9.7], [-5.5, 8.0], [-5.46, 8.4], [-5.42, 7.0], [-5.39, 6.5], [-5.35, 6.0], [-5.31, 5.0], [-5.27, 4.5], [-5.24, 4.0], [-5.2, 5.0], [-5.16, 6.2], [-5.12, 3.0], [-5.09, 2.0], [-4.99, 1.0], [-4.9, 0.5], [-4.84, 0.3], [-4.69, 0.2], [-4.55, 0.8], [-4.46, 1.5], [-4.4, 3.0], [-4.36, 5.0], [-4.32, 5.2], [-4.28, 4.5], [-4.24, 4.0], [-4.2, 3.0], [-4.17, 3.0], [-4.12, 4.5], [-4.06, 5.5], [-4.02, 4.5], [-3.97, 4.0], [-3.92, 3.0], [-3.87, 2.0], [-3.8, 1.0], [-3.76, 0.5], [-3.65, 0],
  [-2.82, 0], [-2.8, 1.0], [-2.76, 3.0], [-2.72, 2.5], [-2.7, 2.0], [-2.6, 1.3], [-2.5, 1.2], [-2.4, 1.0], [-2.3, 0.9], [-2.2, 0.8], [-2.1, 1.2], [-2.01, 2.0], [-1.97, 3.0], [-1.93, 3.6], [-1.89, 2.5], [-1.85, 2.2], [-1.8, 1.8], [-1.7, 1.5], [-1.6, 2.5], [-1.55, 2.8], [-1.49, 3.2], [-1.44, 2.8], [-1.37, 3.4], [-1.33, 2.2], [-1.28, 2.0], [-1.2, 1.3], [-1.1, 1.0], [-1.0, 0.9], [-0.9, 0.7], [-0.8, 0.5], [-0.6, 0.3], [-0.4, 0.15], [-0.2, 0.1], [0, 0.05],
  [0.02, 0.2], [0.1, 0.4], [0.2, 0.6], [0.3, 0.9], [0.4, 1.2], [0.5, 1.5], [0.6, 1.9], [0.65, 1.6], [0.7, 1.2], [0.8, 0.8], [0.9, 0.5], [0.95, 0.6], [1.0, 0.9], [1.05, 0.4], [1.1, 0.3], [1.2, 0.7], [1.3, 0.6], [1.4, 0.6], [1.6, 0.7], [1.8, 0.8], [2.0, 0.9], [2.2, 1.0], [2.4, 1.3], [2.6, 1.8], [2.75, 2.3], [2.85, 2.8], [2.9, 3.5], [2.95, 3.0], [3.05, 3.2], [3.13, 4.0], [3.18, 2.5], [3.25, 2.0], [3.35, 3.0], [3.45, 4.5], [3.5, 6.3], [3.55, 3.0], [3.6, 25], [3.64, 4.0], [3.7, 3.5], [3.78, 3.5], [3.84, 4.0], [3.92, 4.0], [4.0, 4.5], [4.05, 5.0], [4.09, 11.5], [4.13, 5.0], [4.18, 3.5], [4.25, 3.5], [4.32, 3.8], [4.4, 4.0], [4.47, 4.0], [4.54, 7.3], [4.58, 3.5], [4.65, 3.4], [4.72, 3.5], [4.8, 4.0], [4.9, 4.2], [4.95, 3.8], [5.02, 3.5], [5.1, 2.5], [5.2, 1.6], [5.3, 1.5], [5.45, 1.5], [5.6, 1.6], [5.7, 1.8], [5.78, 1.6], [5.84, 2.0], [5.88, 4.0], [5.92, 2.0], [5.97, 1.5], [6.05, 0.8], [6.15, 0.4], [6.25, 0],
];
const abcHxNb: Pt[] = [
  [-9.2, 0], [-9.18, 0.3], [-9.0, 0.6], [-8.88, 1.2], [-8.82, 1.5], [-8.78, 6.2], [-8.74, 1.8], [-8.7, 1.5], [-8.6, 1.2], [-8.5, 1.0], [-8.41, 1.5], [-8.33, 1.8], [-8.29, 2.0], [-8.2, 0.8], [-8.0, 0.5], [-7.8, 0.5], [-7.6, 0.6], [-7.3, 0.6], [-7.0, 0.8], [-6.8, 1.0], [-6.65, 1.5], [-6.5, 1.3], [-6.4, 1.5], [-6.28, 1.0], [-6.15, 1.2], [-6.0, 1.4], [-5.8, 1.8], [-5.68, 2.3], [-5.6, 2.0], [-5.5, 2.2], [-5.4, 1.8], [-5.3, 1.2], [-5.16, 1.0], [-5.0, 0.5], [-4.8, 0.1], [-4.6, 0.2], [-4.4, 0.6], [-4.3, 0.8], [-4.2, 0.6], [-4.06, 1.0], [-3.9, 0.3], [-3.65, 0],
  [-2.82, 0], [-2.8, 0.8], [-2.76, 2.2], [-2.7, 1.4], [-2.5, 0.8], [-2.3, 0.6], [-2.2, 0.5], [-2.1, 0.8], [-2.01, 1.5], [-1.93, 2.5], [-1.85, 1.5], [-1.8, 1.3], [-1.7, 1.1], [-1.6, 1.8], [-1.49, 2.2], [-1.37, 2.3], [-1.3, 1.5], [-1.2, 1.0], [-1.0, 0.7], [-0.8, 0.4], [-0.5, 0.2], [-0.2, 0.08], [0, 0.05],
  [0.02, 0.15], [0.2, 0.5], [0.4, 1.0], [0.6, 1.5], [0.7, 1.0], [0.8, 0.6], [0.9, 0.4], [1.0, 0.7], [1.1, 0.3], [1.2, 0.5], [1.4, 0.5], [1.8, 0.7], [2.2, 0.9], [2.5, 1.2], [2.75, 2.0], [2.9, 3.0], [3.05, 2.8], [3.13, 3.5], [3.2, 1.5], [3.35, 2.5], [3.5, 5.0], [3.55, 2.5], [3.6, 25], [3.64, 3.0], [3.78, 3.0], [3.84, 3.0], [4.0, 3.5], [4.05, 4.0], [4.09, 8.4], [4.13, 3.5], [4.2, 2.8], [4.4, 3.0], [4.5, 3.5], [4.54, 5.5], [4.58, 3.0], [4.8, 3.0], [4.95, 3.0], [5.05, 2.5], [5.1, 2.0], [5.2, 1.2], [5.5, 1.2], [5.8, 1.3], [5.88, 3.0], [5.92, 1.5], [6.0, 1.0], [6.15, 0.3], [6.25, 0],
];
const abcHxN: Pt[] = [
  [-9.2, 0], [-9.18, 0.2], [-8.95, 0.5], [-8.85, 1.0], [-8.78, 3.7], [-8.74, 2.0], [-8.65, 1.2], [-8.5, 0.8], [-8.4, 1.0], [-8.33, 2.0], [-8.25, 0.8], [-8.1, 0.5], [-7.9, 0.3], [-7.5, 0.3], [-7.0, 0.4], [-6.8, 0.6], [-6.65, 0.8], [-6.5, 1.0], [-6.3, 0.5], [-6.0, 0.3], [-5.8, 0.5], [-5.6, 1.3], [-5.5, 1.0], [-5.4, 0.8], [-5.2, 0.5], [-5.0, 0.2], [-4.7, 0.1], [-4.5, 0.4], [-4.35, 0.8], [-4.2, 1.0], [-4.0, 0.8], [-3.85, 0.3], [-3.65, 0],
  [-2.82, 0], [-2.5, 0.1], [-1.5, 0.1], [0, 0.03],
  [0.02, 0.03], [3.0, 0.05], [3.55, 0.1], [3.6, 2.5], [3.65, 0.3], [3.8, 0.4], [4.2, 0.4], [4.5, 0.3], [5.0, 0.2], [5.5, 0.1], [6.25, 0],
];
const abcHxO: Pt[] = [
  [-9.2, 0], [-9.18, 0.1], [-8.9, 0.3], [-8.78, 1.0], [-8.6, 0.8], [-8.4, 1.5], [-8.3, 1.2], [-8.2, 0.7], [-8.0, 0.4], [-7.6, 0.5], [-7.2, 0.8], [-7.0, 1.0], [-6.8, 1.2], [-6.7, 1.5], [-6.67, 3.0], [-6.65, 11.3], [-6.62, 3.0], [-6.5, 2.0], [-6.4, 3.0], [-6.32, 2.5], [-6.28, 13.6], [-6.25, 3.0], [-6.15, 3.0], [-6.0, 3.5], [-5.94, 3.5], [-5.91, 18.4], [-5.88, 3.5], [-5.77, 4.0], [-5.72, 3.5], [-5.68, 13.1], [-5.65, 3.5], [-5.57, 3.5], [-5.5, 4.0], [-5.4, 3.8], [-5.3, 2.5], [-5.16, 3.0], [-5.1, 1.5], [-5.0, 0.7], [-4.8, 0.1], [-4.6, 0.3], [-4.4, 2.0], [-4.32, 3.5], [-4.2, 2.2], [-4.1, 2.5], [-4.06, 3.0], [-3.95, 2.0], [-3.85, 1.5], [-3.76, 0.2], [-3.65, 0],
  [-2.82, 0], [-2.76, 0.6], [-2.5, 0.3], [-2.0, 0.4], [-1.6, 0.3], [-1.2, 0.2], [-0.8, 0.1], [0, 0.05],
  [0.02, 0.05], [0.5, 0.1], [2.0, 0.1], [3.0, 0.15], [3.55, 0.2], [3.6, 1.5], [3.65, 0.3], [4.0, 0.3], [4.09, 1.0], [4.15, 0.4], [4.5, 0.4], [5.0, 0.3], [5.88, 0.4], [6.0, 0.2], [6.25, 0],
];

// ---------- ABA stacking, H_X site ----------
const abaHxTotal: Pt[] = [
  [-8.85, 0], [-8.75, 0.3], [-8.68, 0.8], [-8.57, 1.5], [-8.46, 2.5], [-8.38, 3.5], [-8.34, 4.5], [-8.31, 14.0], [-8.27, 5.0], [-8.24, 4.0], [-8.2, 4.5], [-8.16, 5.5], [-8.12, 5.0], [-8.09, 4.5], [-8.04, 4.2], [-7.99, 4.0], [-7.95, 4.5], [-7.91, 5.0], [-7.86, 4.0], [-7.82, 3.5], [-7.77, 3.0], [-7.72, 2.5], [-7.66, 2.0], [-7.6, 1.5], [-7.55, 1.8], [-7.5, 2.0], [-7.43, 3.0], [-7.39, 4.0], [-7.35, 15.5], [-7.31, 4.0], [-7.28, 3.0], [-7.24, 4.0], [-7.21, 6.0], [-7.17, 3.0], [-7.13, 2.5], [-7.08, 2.2], [-7.03, 2.0], [-6.97, 3.5], [-6.91, 6.0], [-6.87, 3.5], [-6.84, 3.0], [-6.78, 3.2], [-6.72, 3.5], [-6.67, 3.5], [-6.62, 4.0], [-6.56, 5.0], [-6.51, 6.0], [-6.47, 5.0], [-6.44, 4.5], [-6.4, 6.0], [-6.37, 12.0], [-6.33, 5.0], [-6.29, 4.0], [-6.25, 4.5], [-6.22, 5.0], [-6.17, 4.5], [-6.13, 4.0], [-6.09, 5.0], [-6.06, 6.0], [-6.0, 9.0], [-5.96, 15.5], [-5.92, 6.0], [-5.88, 5.0], [-5.84, 7.0], [-5.81, 10.0], [-5.76, 8.0], [-5.71, 17.2], [-5.67, 9.0], [-5.63, 8.0], [-5.59, 9.0], [-5.56, 11.2], [-5.52, 10.0], [-5.49, 10.0], [-5.45, 11.0], [-5.4, 8.0], [-5.36, 7.0], [-5.32, 19.4], [-5.28, 7.0], [-5.25, 6.0], [-5.2, 5.0], [-5.15, 4.5], [-5.1, 4.0], [-5.04, 5.0], [-4.98, 5.5], [-4.93, 5.8], [-4.89, 5.0], [-4.85, 4.5], [-4.81, 5.0], [-4.78, 5.8], [-4.74, 5.0], [-4.71, 4.5], [-4.67, 5.0], [-4.63, 5.0], [-4.57, 4.5], [-4.51, 4.0], [-4.46, 3.8], [-4.41, 3.5], [-4.35, 4.5], [-4.29, 6.3], [-4.24, 5.0], [-4.19, 4.0], [-4.13, 3.5], [-4.07, 3.0], [-3.97, 2.5], [-3.9, 2.3], [-3.82, 2.0], [-3.75, 1.5], [-3.68, 1.0], [-3.6, 0.5], [-3.57, 0.3], [-3.53, 0],
  [-2.22, 0], [-2.2, 3.0], [-2.19, 8.3], [-2.16, 4.0], [-2.13, 3.0], [-2.05, 2.0], [-1.98, 1.8], [-1.92, 2.0], [-1.88, 3.4], [-1.84, 1.5], [-1.8, 1.2], [-1.73, 1.5], [-1.66, 2.0], [-1.6, 2.6], [-1.54, 3.0], [-1.5, 4.0], [-1.47, 8.2], [-1.43, 3.5], [-1.38, 3.0], [-1.3, 2.0], [-1.22, 1.6], [-1.12, 1.3], [-1.0, 1.0], [-0.9, 0.9], [-0.8, 0.8], [-0.7, 0.5], [-0.6, 0.3], [-0.56, 0],
  [0.0, 0], [0.01, 3.4], [0.03, 1.5], [0.1, 1.4], [0.18, 1.6], [0.22, 1.8], [0.28, 1.6], [0.35, 1.2], [0.45, 0.9], [0.55, 0.6], [0.7, 0.4], [0.85, 0.2], [1.0, 0.15], [1.2, 0.1], [1.28, 0.2], [1.32, 0.6], [1.36, 0.2], [1.5, 0.2], [1.7, 0.3], [1.9, 0.4], [1.96, 1.0], [2.0, 0.5], [2.2, 0.5], [2.5, 0.6], [2.8, 0.8], [3.0, 1.0], [3.1, 1.3], [3.2, 1.8], [3.26, 3.0], [3.31, 5.0], [3.36, 4.5], [3.42, 3.0], [3.48, 2.5], [3.55, 1.8], [3.6, 2.5], [3.65, 3.0], [3.7, 4.0], [3.75, 10.8], [3.79, 4.0], [3.85, 3.0], [3.92, 3.0], [4.0, 5.0], [4.06, 5.5], [4.12, 6.5], [4.18, 8.0], [4.22, 10.0], [4.26, 13.1], [4.3, 8.0], [4.35, 7.0], [4.4, 8.0], [4.45, 5.0], [4.5, 4.0], [4.55, 6.0], [4.6, 8.0], [4.63, 10.4], [4.67, 4.0], [4.72, 3.0], [4.8, 2.2], [4.9, 2.4], [5.0, 2.5], [5.05, 2.3], [5.1, 2.0], [5.2, 2.0], [5.3, 2.2], [5.38, 2.5], [5.42, 2.0], [5.5, 1.7], [5.6, 1.7], [5.72, 1.8], [5.8, 2.0], [5.84, 3.5], [5.88, 5.4], [5.92, 2.0], [5.98, 1.5], [6.1, 1.5], [6.2, 1.5], [6.28, 2.0], [6.32, 4.3], [6.36, 1.5], [6.45, 1.3], [6.55, 1.0], [6.65, 0.7], [6.75, 0.3], [6.84, 0],
];
const abaHxNb: Pt[] = [
  [-8.85, 0], [-8.75, 0.2], [-8.6, 0.6], [-8.45, 0.9], [-8.35, 1.5], [-8.31, 5.5], [-8.27, 1.5], [-8.2, 1.5], [-8.12, 2.0], [-8.0, 2.0], [-7.9, 1.5], [-7.8, 1.3], [-7.6, 1.0], [-7.45, 1.2], [-7.35, 3.5], [-7.3, 1.2], [-7.2, 1.0], [-7.0, 1.2], [-6.8, 1.3], [-6.6, 1.4], [-6.5, 1.5], [-6.37, 2.0], [-6.25, 1.5], [-6.1, 1.4], [-6.0, 1.3], [-5.9, 1.5], [-5.8, 1.6], [-5.6, 1.8], [-5.45, 1.7], [-5.32, 1.6], [-5.2, 1.2], [-5.0, 1.5], [-4.8, 1.4], [-4.6, 1.2], [-4.4, 1.1], [-4.29, 1.2], [-4.1, 0.8], [-3.9, 0.6], [-3.7, 0.3], [-3.53, 0],
  [-2.22, 0], [-2.2, 2.0], [-2.19, 5.0], [-2.16, 2.5], [-2.1, 1.5], [-1.98, 1.3], [-1.88, 2.5], [-1.84, 1.1], [-1.75, 1.0], [-1.6, 1.6], [-1.5, 2.5], [-1.47, 5.0], [-1.43, 2.2], [-1.3, 1.6], [-1.1, 1.0], [-0.9, 0.6], [-0.7, 0.4], [-0.6, 0.2], [-0.56, 0],
  [0.0, 0], [0.01, 2.0], [0.03, 1.2], [0.1, 1.1], [0.22, 1.5], [0.35, 1.0], [0.5, 0.6], [0.7, 0.3], [0.9, 0.15], [1.2, 0.1], [1.32, 0.5], [1.36, 0.1], [1.9, 0.3], [1.96, 0.8], [2.0, 0.4], [2.5, 0.5], [2.8, 0.6], [3.0, 0.8], [3.2, 1.5], [3.31, 3.3], [3.36, 3.0], [3.5, 1.5], [3.65, 2.2], [3.75, 7.5], [3.79, 3.0], [3.9, 2.5], [4.06, 3.5], [4.18, 5.0], [4.22, 6.5], [4.26, 10.5], [4.3, 6.0], [4.4, 4.5], [4.5, 3.0], [4.6, 5.0], [4.63, 7.5], [4.67, 3.0], [4.8, 1.8], [5.0, 2.0], [5.2, 1.8], [5.38, 2.0], [5.5, 1.5], [5.7, 1.5], [5.84, 2.0], [5.88, 3.8], [5.92, 1.5], [6.1, 1.3], [6.28, 1.5], [6.32, 3.3], [6.36, 1.2], [6.5, 1.0], [6.65, 0.6], [6.8, 0.2], [6.84, 0],
];
const abaHxN: Pt[] = [
  [-8.85, 0], [-8.75, 0.1], [-8.5, 0.5], [-8.35, 1.0], [-8.31, 2.8], [-8.27, 1.0], [-8.2, 0.7], [-8.0, 0.5], [-7.7, 0.4], [-7.5, 0.3], [-7.2, 0.3], [-7.0, 0.4], [-6.7, 0.4], [-6.5, 0.5], [-6.3, 0.6], [-6.1, 0.5], [-5.9, 0.4], [-5.7, 0.6], [-5.5, 0.8], [-5.3, 0.7], [-5.1, 0.5], [-4.95, 1.0], [-4.9, 1.9], [-4.85, 1.0], [-4.7, 0.8], [-4.5, 0.9], [-4.4, 1.1], [-4.2, 0.8], [-4.0, 0.5], [-3.7, 0.2], [-3.53, 0],
  [-2.22, 0], [-2.19, 0.2], [-1.5, 0.1], [-0.8, 0.05], [-0.56, 0],
  [0.0, 0], [1.0, 0.02], [3.5, 0.05], [4.0, 0.1], [4.2, 0.9], [4.3, 0.4], [4.5, 0.3], [5.0, 0.1], [6.84, 0],
];
const abaHxO: Pt[] = [
  [-8.85, 0], [-8.75, 0.1], [-8.5, 0.3], [-8.35, 0.6], [-8.31, 1.0], [-8.2, 0.8], [-8.0, 0.6], [-7.8, 0.7], [-7.6, 0.6], [-7.4, 1.0], [-7.35, 5.0], [-7.3, 1.2], [-7.1, 1.0], [-7.0, 1.3], [-6.8, 1.5], [-6.6, 2.0], [-6.45, 2.5], [-6.37, 5.0], [-6.3, 2.5], [-6.15, 2.5], [-6.06, 4.0], [-6.0, 5.0], [-5.96, 8.0], [-5.92, 3.0], [-5.8, 3.0], [-5.75, 5.0], [-5.71, 13.0], [-5.67, 5.0], [-5.6, 5.0], [-5.52, 6.0], [-5.49, 8.0], [-5.45, 4.0], [-5.4, 3.0], [-5.36, 4.0], [-5.32, 9.0], [-5.28, 3.0], [-5.2, 2.0], [-5.0, 2.0], [-4.8, 2.2], [-4.6, 2.5], [-4.45, 2.0], [-4.29, 2.6], [-4.15, 1.8], [-4.0, 1.2], [-3.8, 0.5], [-3.6, 0.1], [-3.53, 0],
  [-2.22, 0], [-2.2, 0.8], [-2.19, 1.5], [-2.16, 0.9], [-2.0, 0.8], [-1.8, 0.4], [-1.6, 0.6], [-1.47, 1.3], [-1.4, 0.8], [-1.3, 0.6], [-1.0, 0.2], [-0.7, 0.05], [-0.56, 0],
  [0.0, 0], [0.1, 0.1], [1.0, 0.05], [2.0, 0.1], [3.0, 0.2], [3.3, 0.3], [3.7, 0.4], [3.75, 1.5], [3.8, 0.5], [4.0, 0.4], [4.3, 0.6], [4.4, 0.4], [5.0, 0.3], [5.5, 0.3], [5.88, 0.5], [6.0, 0.2], [6.84, 0],
];

// ---------- layout ----------
const WIDTH = 1222;
const HEIGHT = 832;
const colX = [84, 670];
const rowY = [93, 325, 557];
const PW = 531;
const PH = 211;
const FONT = "'Liberation Serif', 'Times New Roman', Times, serif";

type PanelSpec = {
  col: number;
  row: number;
  main: string;
  sub: string;
  labelX: number;
  series: Pt[][];
};

const panels: PanelSpec[] = [
  { col: 0, row: 0, main: "H", sub: "M", labelX: 558, series: [abcHmTotal, abcHmNb, abcHmN, abcHmO] },
  { col: 1, row: 0, main: "H", sub: "", labelX: 692, series: [abaHTotal, abaHNb, abaHN, abaHO] },
  { col: 0, row: 1, main: "H", sub: "MX", labelX: 551, series: [abcHmxTotal, abcHmxNb, abcHmxN, abcHmxO] },
  { col: 1, row: 1, main: "H", sub: "MX", labelX: 682, series: [abaHmxTotal, abaHmxNb, abaHmxN, abaHmxO] },
  { col: 0, row: 2, main: "H", sub: "X", labelX: 561, series: [abcHxTotal, abcHxNb, abcHxN, abcHxO] },
  { col: 1, row: 2, main: "H", sub: "X", labelX: 691, series: [abaHxTotal, abaHxNb, abaHxN, abaHxO] },
];

const fmtE = d3.format(".1f");
const fmtD = d3.format("d");

function Panel({ spec, idx }: { spec: PanelSpec; idx: number }) {
  const x0 = colX[spec.col];
  const y0 = rowY[spec.row];
  const x = d3.scaleLinear().domain([-10, 10]).range([x0, x0 + PW]);
  const y = d3.scaleLinear().domain([0, 20]).range([y0 + PH, y0]);
  const line = d3
    .line<Pt>()
    .x((d) => x(d[0]))
    .y((d) => y(d[1]));
  const clipId = `clip-${idx}`;
  const showX = spec.row === 2;
  const showY = spec.col === 0;
  return (
    <g>
      <defs>
        <clipPath id={clipId}>
          <rect x={x0} y={y0} width={PW} height={PH} />
        </clipPath>
      </defs>
      <g clipPath={`url(#${clipId})`}>
        {spec.series.map((s, i) => (
          <path
            key={i}
            d={line(s) || ""}
            fill="none"
            stroke={seriesColors[i]}
            strokeWidth={1.6}
            strokeLinejoin="round"
          />
        ))}
        <line
          x1={x(0)}
          x2={x(0)}
          y1={y(0)}
          y2={y(20)}
          stroke="#000"
          strokeWidth={1.4}
          strokeDasharray="5.5,2.6"
        />
      </g>
      <rect x={x0} y={y0} width={PW} height={PH} fill="none" stroke="#1a1a1a" strokeWidth={1.4} />
      {energyTicks.map((t) => (
        <g key={`xt${t}`}>
          <line x1={x(t)} x2={x(t)} y1={y0 + PH} y2={y0 + PH + 6} stroke="#1a1a1a" strokeWidth={1.2} />
          {showX && (
            <text x={x(t)} y={y0 + PH + 28} textAnchor="middle" fontSize={19} fontFamily={FONT} fill="#222">
              {fmtE(t)}
            </text>
          )}
        </g>
      ))}
      {dosTicks.map((t) => (
        <g key={`yt${t}`}>
          <line x1={x0 - 6} x2={x0} y1={y(t)} y2={y(t)} stroke="#1a1a1a" strokeWidth={1.2} />
          {showY && (
            <text x={x0 - 12} y={y(t) + 6.5} textAnchor="end" fontSize={19} fontFamily={FONT} fill="#222">
              {fmtD(t)}
            </text>
          )}
        </g>
      ))}
      <text x={spec.labelX} y={y0 + 37} fontSize={29} fontFamily={FONT} fill="#111">
        {spec.main}
        {spec.sub && (
          <tspan dy={6} fontSize={20}>
            {spec.sub}
          </tspan>
        )}
      </text>
    </g>
  );
}

function Legend() {
  const lx = 1103;
  const rows = [109, 133.5, 158, 182.5];
  return (
    <g>
      {seriesNames.map((n, i) => (
        <g key={n}>
          <line x1={lx} x2={lx + 39} y1={rows[i]} y2={rows[i]} stroke={seriesColors[i]} strokeWidth={2.2} />
          <text x={lx + 53} y={rows[i] + 6} fontSize={17} fontFamily={FONT} fill="#222">
            {n}
          </text>
        </g>
      ))}
    </g>
  );
}

export default function App() {
  return (
    <svg
      width={WIDTH}
      height={HEIGHT}
      viewBox={`0 0 ${WIDTH} ${HEIGHT}`}
      style={{ position: "absolute", left: 0, top: 0, background: "#fff" }}
    >
      <rect x={0} y={0} width={WIDTH} height={HEIGHT} fill="#fff" />
      <text x={643} y={37} textAnchor="middle" fontSize={30} fontFamily={FONT} fill="#111">
        Nb
        <tspan dy={7} fontSize={21}>2</tspan>
        <tspan dy={-7}>NO</tspan>
        <tspan dy={7} fontSize={21}>2</tspan>
      </text>
      {stackings.map((s, i) => (
        <text key={s} x={colX[i] + PW / 2} y={77} textAnchor="middle" fontSize={29} fontFamily={FONT} fill="#111">
          {s}
        </text>
      ))}
      {rowY.map((ry) => (
        <text
          key={`dos${ry}`}
          transform={`translate(33, ${ry + PH / 2}) rotate(-90)`}
          textAnchor="middle"
          fontSize={25}
          fontFamily={FONT}
          fill="#111"
        >
          DOS
        </text>
      ))}
      {colX.map((cx) => (
        <text key={`en${cx}`} x={cx + PW / 2} y={823} textAnchor="middle" fontSize={26} fontFamily={FONT} fill="#111">
          Energy (eV)
        </text>
      ))}
      {panels.map((p, i) => (
        <Panel key={i} spec={p} idx={i} />
      ))}
      <Legend />
    </svg>
  );
}
